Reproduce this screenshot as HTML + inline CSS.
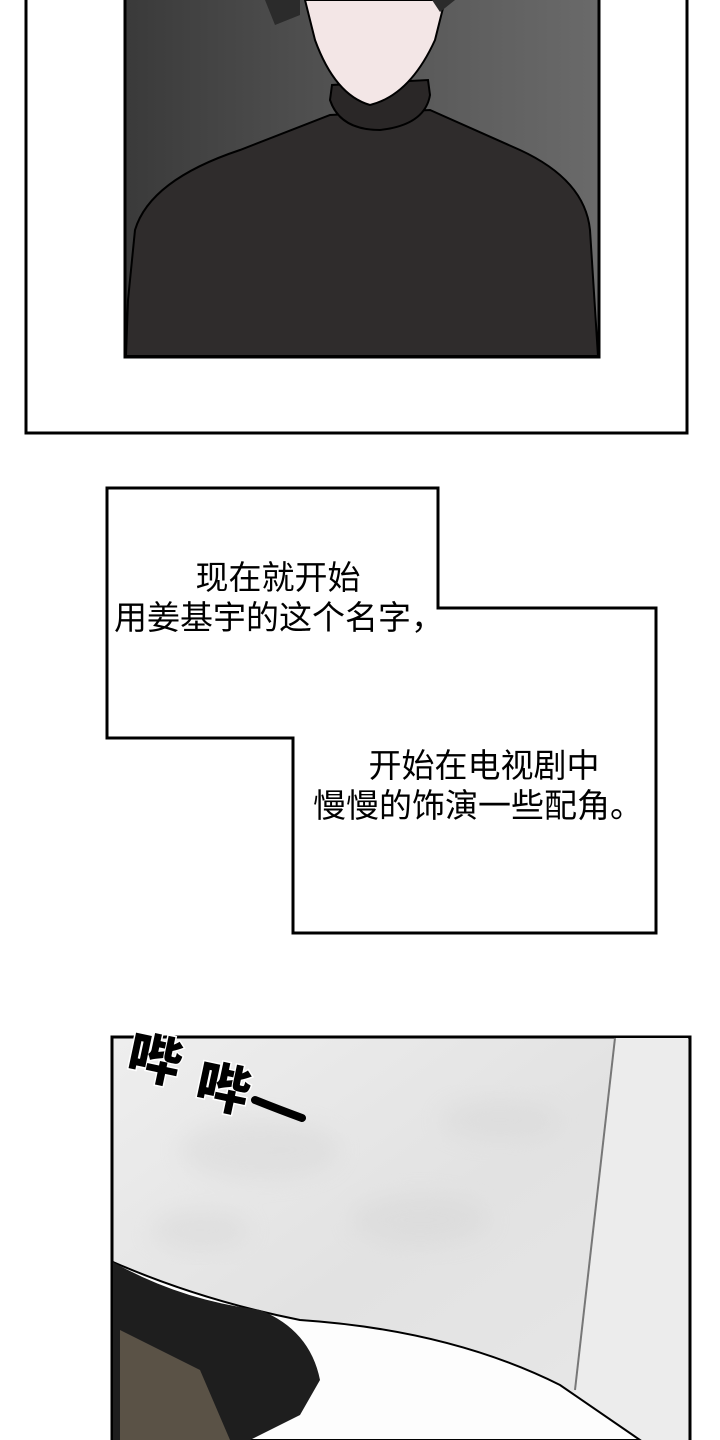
<!DOCTYPE html>
<html><head><meta charset="utf-8"><style>
html,body{margin:0;padding:0;background:#fff;}
body{width:720px;height:1440px;overflow:hidden;position:relative;}
svg{position:absolute;left:0;top:0;}
</style></head><body>
<svg width="720" height="1440" viewBox="0 0 720 1440" xmlns="http://www.w3.org/2000/svg">
<defs>
<linearGradient id="bg1" x1="0" y1="0" x2="1" y2="0">
<stop offset="0" stop-color="#3a3a3a"/><stop offset="0.5" stop-color="#555"/><stop offset="1" stop-color="#6a6a6a"/>
</linearGradient>
<linearGradient id="wall" x1="0" y1="0" x2="1" y2="1">
<stop offset="0" stop-color="#eeeeee"/><stop offset="0.5" stop-color="#e2e2e2"/><stop offset="1" stop-color="#e8e8e8"/>
</linearGradient>
<filter id="bl"><feGaussianBlur stdDeviation="12"/></filter>
</defs>
<rect x="26" y="-5" width="661" height="438" fill="#fff" stroke="#000" stroke-width="3"/>
<rect x="125" y="-5" width="474" height="362" fill="url(#bg1)" stroke="#000" stroke-width="3"/>
<path d="M128 300 L135 230 Q150 180 240 150 L330 115 L430 110 L520 150 Q585 180 590 230 L598 356 L126 356 Z" fill="#2f2c2c" stroke="#000" stroke-width="2"/>
<path d="M330 100 Q340 130 380 130 Q425 125 430 95 L428 80 L332 85 Z" fill="#2a2727" stroke="#000" stroke-width="2"/>
<path d="M305 0 L315 40 Q335 95 370 105 Q410 95 435 40 L445 0 Z" fill="#f3e6e6" stroke="#000" stroke-width="2"/>
<path d="M265 0 L275 25 L300 15 L300 0 Z M432 0 L440 12 L455 0 Z" fill="#2b2b2b"/>
<path d="M107 488 L438 488 L438 608 L656 608 L656 933 L293 933 L293 738 L107 738 Z" fill="#fff" stroke="#000" stroke-width="3"/>
<g font-family="'Liberation Sans','Noto Sans CJK SC',sans-serif" font-size="33" fill="#000" text-anchor="middle">
<text x="278" y="589">现在就开始</text>
<text x="279" y="629">用姜基宇的这个名字，</text>
<text x="484" y="777">开始在电视剧中</text>
<text x="478" y="817">慢慢的饰演一些配角。</text>
</g>
<rect x="112" y="1037" width="578" height="410" fill="url(#wall)" stroke="#000" stroke-width="3"/>
<g fill="#d4d4d4" opacity="0.4" filter="url(#bl)">
<ellipse cx="260" cy="1150" rx="80" ry="30"/><ellipse cx="420" cy="1220" rx="70" ry="25"/><ellipse cx="200" cy="1230" rx="50" ry="20"/><ellipse cx="500" cy="1120" rx="60" ry="20"/>
</g>
<path d="M615 1038 L688 1038 L688 1440 L560 1440 L575 1390 Z" fill="#ececec"/>
<path d="M615 1038 L575 1390" stroke="#777" stroke-width="2"/>
<path d="M113 1262 Q200 1300 300 1320 Q450 1330 560 1385 L640 1440 L113 1440 Z" fill="#fdfdfd" stroke="#000" stroke-width="2"/>
<path d="M113 1262 Q180 1300 260 1310 Q310 1330 320 1380 L300 1415 L250 1440 L113 1440 Z" fill="#1e1e1e"/>
<path d="M120 1330 L200 1370 L230 1440 L120 1440 Z" fill="#5a5246"/>
<g font-family="'Noto Sans CJK SC','WenQuanYi Zen Hei',sans-serif" font-weight="900" fill="#000" stroke="#fff" stroke-width="3" paint-order="stroke">
<text x="128" y="1080" font-size="54" transform="rotate(12 160 1060)">哔</text>
<text x="196" y="1108" font-size="54" transform="rotate(12 225 1090)">哔</text>
</g>
<path d="M255 1100 Q280 1110 302 1118" stroke="#000" stroke-width="8" fill="none" stroke-linecap="round"/>
</svg>
</body></html>
